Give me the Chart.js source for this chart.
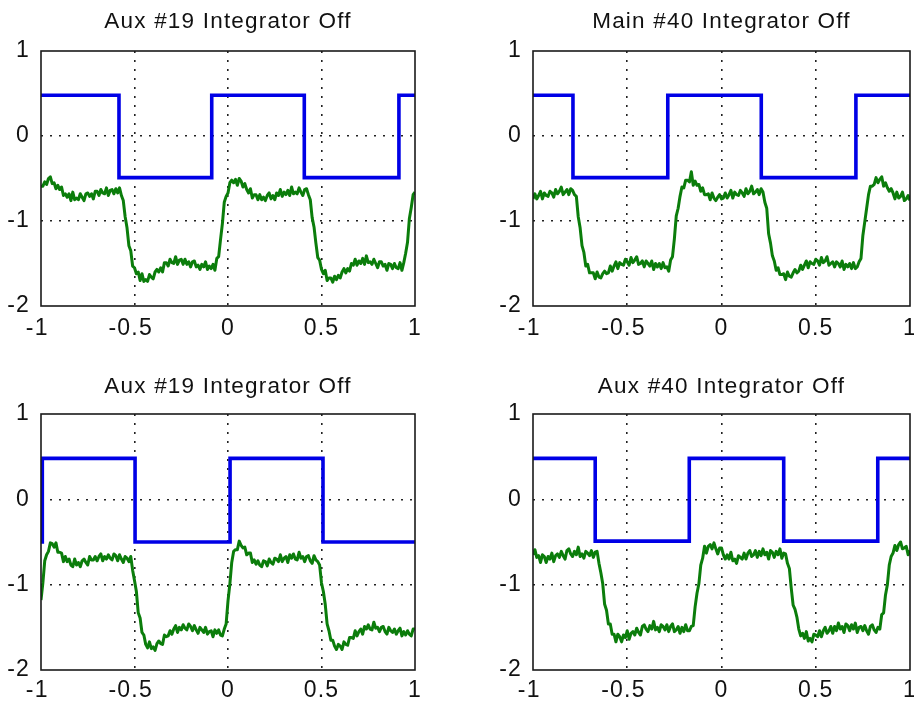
<!DOCTYPE html>
<html>
<head>
<meta charset="utf-8">
<script src="https://cdn.jsdelivr.net/npm/chart.js@4.4.1/dist/chart.umd.min.js"></script>
<style>
  body { margin: 0; background: #fff; }
  #wrap { position: relative; width: 914px; height: 702px; overflow: hidden; }
  canvas { position: absolute; }
</style>
</head>
<body>
<div id="wrap">
  <canvas id="c1" width="457" height="351" style="left:0;top:0"></canvas>
  <canvas id="c2" width="457" height="351" style="left:457px;top:0"></canvas>
  <canvas id="c3" width="457" height="351" style="left:0;top:351px"></canvas>
  <canvas id="c4" width="457" height="351" style="left:457px;top:351px"></canvas>
</div>
<script>
// titles and tick labels
var titles = ['Aux #19 Integrator Off', 'Main #40 Integrator Off', 'Aux #19 Integrator Off', 'Aux #40 Integrator Off'];
var xTickLabels = ['-1', '-0.5', '0', '0.5', '1'];
var yTickLabels = ['-2', '-1', '0', '1'];

// sample times, -1 : 0.01 : 1
var t = [];
for (var i = 0; i <= 200; i++) t.push(Math.round(-100 + i) / 100);

// blue square wave (step corners)
var blueX1 = [-1, -0.583, -0.583, -0.087, -0.087, 0.408, 0.408, 0.914, 0.914, 1];
var blueY1 = [0.48, 0.48, -0.49, -0.49, 0.48, 0.48, -0.49, -0.49, 0.48, 0.48];
var blueX2 = [-1, -0.788, -0.788, -0.285, -0.285, 0.211, 0.211, 0.713, 0.713, 1];
var blueY2 = [0.48, 0.48, -0.49, -0.49, 0.48, 0.48, -0.49, -0.49, 0.48, 0.48];
var blueX3 = [-1, -0.993, -0.993, -0.497, -0.497, 0.011, 0.011, 0.508, 0.508, 1];
var blueY3 = [-0.5, -0.5, 0.48, 0.48, -0.5, -0.5, 0.48, 0.48, -0.5, -0.5];
var blueX4 = [-1, -0.67, -0.67, -0.171, -0.171, 0.33, 0.33, 0.829, 0.829, 1];
var blueY4 = [0.48, 0.48, -0.49, -0.49, 0.48, 0.48, -0.49, -0.49, 0.48, 0.48];

// green response, one value per sample time
var green1 = [
  -0.59,-0.59,-0.54,-0.57,-0.50,-0.48,-0.56,-0.55,-0.62,-0.58,-0.63,-0.60,-0.70,-0.68,-0.72,-0.68,-0.76,-0.66,-0.75,-0.73,-0.75,-0.68,-0.72,-0.76,-0.68,-0.67,-0.71,-0.68,-0.74,-0.65,-0.65,-0.70,-0.63,-0.67,-0.68,-0.61,-0.70,-0.64,-0.63,-0.68,-0.62,-0.67,
  -0.61,-0.70,-0.76,-0.95,-1.08,-1.29,-1.35,-1.53,-1.55,-1.62,-1.60,-1.70,-1.62,-1.71,-1.69,-1.71,-1.63,-1.66,-1.68,-1.60,-1.57,-1.60,-1.55,-1.60,-1.49,-1.49,-1.53,-1.45,-1.49,-1.50,-1.42,-1.51,-1.46,-1.45,-1.51,-1.45,-1.51,-1.48,-1.54,-1.48,-1.47,-1.54,-1.52,-1.57,-1.51,-1.54,-1.48,-1.57,-1.53,-1.56,
  -1.51,-1.58,-1.44,-1.42,-1.22,-1.03,-0.78,-0.71,-0.67,-0.55,-0.52,-0.55,-0.51,-0.58,-0.50,-0.53,-0.60,-0.56,-0.63,-0.67,-0.62,-0.73,-0.69,-0.69,-0.75,-0.69,-0.75,-0.72,-0.76,-0.70,-0.67,-0.74,-0.70,-0.75,-0.67,-0.70,-0.63,-0.71,-0.66,-0.69,-0.64,-0.70,-0.60,-0.68,-0.66,-0.68,-0.61,-0.66,-0.70,-0.63,
  -0.62,-0.69,-0.75,-0.96,-1.07,-1.26,-1.43,-1.46,-1.57,-1.62,-1.58,-1.70,-1.67,-1.67,-1.72,-1.65,-1.69,-1.64,-1.67,-1.60,-1.56,-1.61,-1.56,-1.59,-1.50,-1.52,-1.45,-1.52,-1.47,-1.50,-1.44,-1.51,-1.41,-1.49,-1.48,-1.51,-1.45,-1.50,-1.55,-1.48,-1.48,-1.53,-1.51,-1.58,-1.50,-1.51,-1.56,-1.50,-1.55,-1.56,
  -1.49,-1.58,-1.49,-1.38,-1.25,-0.97,-0.84,-0.69,-0.66
];
var green2 = [
  -0.74,-0.68,-0.74,-0.70,-0.65,-0.74,-0.67,-0.70,-0.71,-0.65,-0.67,-0.72,-0.63,-0.68,-0.65,-0.60,-0.69,-0.66,-0.63,-0.69,-0.62,
  -0.64,-0.69,-0.71,-0.95,-1.08,-1.29,-1.37,-1.53,-1.51,-1.61,-1.61,-1.61,-1.68,-1.60,-1.66,-1.67,-1.62,-1.59,-1.62,-1.61,-1.53,-1.59,-1.53,-1.48,-1.56,-1.49,-1.51,-1.52,-1.45,-1.48,-1.52,-1.43,-1.49,-1.46,-1.42,-1.51,-1.50,-1.47,-1.54,-1.47,-1.50,-1.53,-1.47,-1.57,-1.50,-1.54,-1.50,-1.56,-1.49,-1.55,
  -1.54,-1.59,-1.46,-1.42,-1.21,-0.94,-0.85,-0.71,-0.60,-0.61,-0.52,-0.52,-0.54,-0.42,-0.58,-0.53,-0.58,-0.57,-0.65,-0.61,-0.69,-0.69,-0.68,-0.75,-0.67,-0.73,-0.76,-0.72,-0.69,-0.74,-0.73,-0.67,-0.73,-0.69,-0.64,-0.73,-0.66,-0.69,-0.70,-0.64,-0.67,-0.71,-0.62,-0.68,-0.65,-0.59,-0.68,-0.66,-0.63,-0.69,
  -0.62,-0.66,-0.78,-0.85,-1.15,-1.26,-1.41,-1.47,-1.58,-1.55,-1.63,-1.63,-1.62,-1.69,-1.60,-1.65,-1.66,-1.61,-1.57,-1.61,-1.59,-1.52,-1.57,-1.52,-1.47,-1.55,-1.48,-1.50,-1.51,-1.45,-1.47,-1.52,-1.43,-1.49,-1.47,-1.42,-1.52,-1.50,-1.48,-1.54,-1.48,-1.50,-1.54,-1.47,-1.57,-1.51,-1.54,-1.50,-1.56,-1.49,
  -1.56,-1.54,-1.48,-1.44,-1.17,-1.01,-0.85,-0.69,-0.59,-0.59,-0.57,-0.49,-0.55,-0.51,-0.48,-0.59,-0.55,-0.61,-0.65,-0.62,-0.67,-0.74,-0.66,-0.73,-0.71,-0.66,-0.76,-0.74,-0.70,-0.76
];
var green3 = [
  -1.18,-0.98,-0.72,-0.65,-0.61,-0.51,-0.52,-0.56,-0.51,-0.62,-0.62,-0.63,-0.73,-0.67,-0.73,-0.70,-0.77,-0.79,-0.70,-0.77,-0.74,-0.79,-0.72,-0.70,-0.74,-0.77,-0.67,-0.71,-0.71,-0.67,-0.72,-0.67,-0.64,-0.72,-0.67,-0.70,-0.65,-0.69,-0.71,-0.64,-0.66,-0.72,-0.65,-0.70,-0.74,-0.67,-0.69,-0.73,
  -0.67,-0.83,-0.95,-1.08,-1.33,-1.39,-1.56,-1.59,-1.70,-1.74,-1.67,-1.75,-1.73,-1.77,-1.69,-1.66,-1.69,-1.70,-1.59,-1.61,-1.60,-1.54,-1.58,-1.52,-1.48,-1.56,-1.50,-1.53,-1.47,-1.51,-1.53,-1.46,-1.49,-1.54,-1.48,-1.53,-1.57,-1.50,-1.53,-1.56,-1.50,-1.58,-1.55,-1.54,-1.61,-1.53,-1.57,-1.53,-1.59,-1.60,
  -1.52,-1.46,-1.19,-0.99,-0.74,-0.61,-0.59,-0.59,-0.49,-0.54,-0.57,-0.56,-0.65,-0.63,-0.63,-0.74,-0.71,-0.76,-0.72,-0.77,-0.79,-0.72,-0.73,-0.78,-0.70,-0.74,-0.76,-0.69,-0.70,-0.73,-0.65,-0.73,-0.69,-0.67,-0.74,-0.65,-0.69,-0.64,-0.70,-0.71,-0.62,-0.69,-0.67,-0.73,-0.67,-0.66,-0.72,-0.75,-0.66,-0.71,
  -0.73,-0.77,-0.98,-1.08,-1.23,-1.46,-1.54,-1.65,-1.65,-1.72,-1.76,-1.70,-1.72,-1.76,-1.67,-1.70,-1.71,-1.62,-1.62,-1.63,-1.54,-1.60,-1.55,-1.52,-1.58,-1.49,-1.52,-1.47,-1.52,-1.53,-1.44,-1.51,-1.50,-1.55,-1.50,-1.49,-1.55,-1.58,-1.50,-1.54,-1.56,-1.52,-1.58,-1.54,-1.51,-1.60,-1.55,-1.59,-1.54,-1.58,-1.60,-1.52,-1.52
];
var green4 = [
  -0.65,-0.59,-0.68,-0.66,-0.74,-0.65,-0.67,-0.74,-0.67,-0.70,-0.63,-0.73,-0.66,-0.64,-0.68,-0.61,-0.66,-0.70,-0.60,-0.58,-0.64,-0.67,-0.61,-0.65,-0.56,-0.67,-0.64,-0.69,-0.61,-0.63,-0.66,-0.60,-0.68,
  -0.62,-0.61,-0.75,-0.86,-0.99,-1.23,-1.30,-1.46,-1.46,-1.58,-1.58,-1.67,-1.58,-1.61,-1.67,-1.59,-1.62,-1.54,-1.64,-1.57,-1.55,-1.59,-1.51,-1.56,-1.59,-1.49,-1.47,-1.52,-1.55,-1.48,-1.52,-1.43,-1.53,-1.50,-1.55,-1.47,-1.49,-1.53,-1.47,-1.55,-1.49,-1.46,-1.55,-1.53,-1.49,-1.57,-1.50,-1.55,-1.47,-1.54,
  -1.54,-1.49,-1.48,-1.26,-1.10,-0.99,-0.77,-0.69,-0.55,-0.63,-0.55,-0.53,-0.58,-0.51,-0.58,-0.64,-0.57,-0.57,-0.65,-0.70,-0.65,-0.70,-0.62,-0.72,-0.70,-0.75,-0.66,-0.68,-0.70,-0.63,-0.70,-0.63,-0.60,-0.67,-0.65,-0.60,-0.68,-0.61,-0.66,-0.58,-0.65,-0.62,-0.70,-0.60,-0.62,-0.68,-0.61,-0.65,-0.58,-0.69,
  -0.63,-0.64,-0.75,-0.81,-1.04,-1.24,-1.29,-1.38,-1.52,-1.60,-1.57,-1.63,-1.55,-1.66,-1.63,-1.67,-1.58,-1.59,-1.61,-1.54,-1.61,-1.54,-1.50,-1.57,-1.54,-1.49,-1.57,-1.49,-1.54,-1.45,-1.52,-1.49,-1.56,-1.46,-1.48,-1.54,-1.47,-1.52,-1.45,-1.56,-1.50,-1.49,-1.54,-1.48,-1.54,-1.58,-1.49,-1.47,-1.53,-1.56,
  -1.50,-1.52,-1.35,-1.33,-1.12,-1.00,-0.77,-0.67,-0.63,-0.54,-0.60,-0.53,-0.50,-0.58,-0.57,-0.55,-0.65,-0.60
];

var FONT = "'Liberation Sans', Arial, Helvetica, sans-serif";

// text in the original is a little spread out
var spacing = {
  id: 'spacing',
  beforeUpdate: function (chart) { chart.ctx.letterSpacing = '1.2px'; },
  beforeDraw: function (chart) { chart.ctx.letterSpacing = '1.2px'; }
};

// solid frame round the axes
var box = {
  id: 'box',
  afterDatasetsDraw: function (chart) {
    var a = chart.chartArea, ctx = chart.ctx;
    ctx.save();
    ctx.setLineDash([]);
    ctx.strokeStyle = '#1a1a1a';
    ctx.lineWidth = 1.6;
    ctx.strokeRect(a.left, a.top, a.right - a.left, a.bottom - a.top);
    ctx.restore();
  }
};

function pts(xs, ys) {
  return xs.map(function (x, i) { return { x: x, y: ys[i] }; });
}

function makePanel(id, title, blueX, blueY, green, left, right, top, axisH, titleTop, xPad) {
  new Chart(document.getElementById(id), {
    type: 'line',
    data: {
      datasets: [
        {
          data: pts(t, green),
          borderColor: '#0b7d0b',
          borderWidth: 3,
          borderJoinStyle: 'round',
          pointRadius: 0,
          order: 0
        },
        {
          data: pts(blueX, blueY),
          borderColor: '#0000e6',
          borderWidth: 3.6,
          pointRadius: 0,
          order: 1
        }
      ]
    },
    options: {
      responsive: false,
      animation: false,
      devicePixelRatio: 1,
      layout: { autoPadding: false, padding: { left: 0, right: right, top: 0, bottom: 0 } },
      elements: { line: { tension: 0 } },
      plugins: {
        legend: { display: false },
        tooltip: { enabled: false },
        title: {
          display: true,
          text: title,
          fullSize: false,
          color: '#111',
          font: { family: FONT, size: 22.5, weight: 'normal', lineHeight: 1.2 },
          padding: { top: titleTop, bottom: top - titleTop - 27 }
        }
      },
      scales: {
        x: {
          type: 'linear',
          min: -1,
          max: 1,
          ticks: {
            stepSize: 0.5,
            color: '#111',
            padding: xPad,
            maxRotation: 0,
            font: { family: FONT, size: 23 },
            callback: function (v, i) {
              var s = xTickLabels[i];
              return s.charAt(0) === '-' ? s + ' ' : s;
            }
          },
          grid: {
            drawTicks: false,
            lineWidth: 1.6,
            color: function (c) {
              return (c.tick && Math.abs(c.tick.value) === 1) ? 'rgba(0,0,0,0)' : '#222';
            }
          },
          border: { display: false, dash: [2, 7] },
          afterFit: function (s) { s.height = axisH; s.paddingLeft = 0; s.paddingRight = 0; }
        },
        y: {
          min: -2,
          max: 1,
          ticks: {
            stepSize: 1,
            color: '#111',
            padding: 11,
            font: { family: FONT, size: 23 },
            callback: function (v, i) { return yTickLabels[i]; }
          },
          grid: {
            drawTicks: false,
            lineWidth: 1.6,
            color: function (c) {
              return (c.tick && (c.tick.value === -2 || c.tick.value === 1)) ? 'rgba(0,0,0,0)' : '#222';
            }
          },
          border: { display: false, dash: [2, 7] },
          afterFit: function (s) { s.width = left; s.paddingTop = 0; s.paddingBottom = 0; }
        }
      }
    },
    plugins: [spacing, box]
  });
}

makePanel('c1', titles[0], blueX1, blueY1, green1, 41, 42, 51, 45, 8.5, 8.5);
makePanel('c2', titles[1], blueX2, blueY2, green2, 76, 4, 51, 45, 8.5, 8.5);
makePanel('c3', titles[2], blueX3, blueY3, green3, 41, 42, 63, 32, 22, 7);
makePanel('c4', titles[3], blueX4, blueY4, green4, 76, 4, 63, 32, 22, 7);
</script>
</body>
</html>
